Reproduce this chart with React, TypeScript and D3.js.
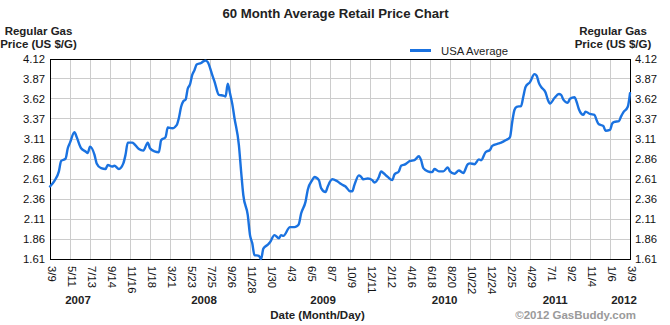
import React from "react";
import * as d3 from "d3";

// weeks since Fri 2007-03-09 and average retail price (US $/gal)
const weeks = [
  0, 2, 4, 5, 7, 8, 9, 11, 12, 14, 16, 17, 18, 20, 21, 23, 25, 26, 28, 29,
  31, 33, 34, 35, 37, 38, 40, 42, 44, 45, 47, 49, 50, 52, 53, 55, 57, 58, 59, 60,
  61, 62, 63, 64, 65, 66, 68, 69, 70, 71, 73, 74, 76, 78, 79, 80, 81, 82, 83, 85,
  86, 87, 89, 90, 91, 92, 94, 95, 96, 98, 99, 101, 103, 104, 105, 108, 110, 111, 112, 113,
  115, 116, 118, 119, 121, 122, 124, 125, 127, 129, 131, 133, 135, 136, 137, 139, 140, 141, 143, 145,
  146, 148, 149, 150, 152, 154, 155, 157, 158, 160, 162, 164, 166, 167, 168, 170, 172, 173, 175, 177,
  179, 180, 182, 184, 186, 188, 189, 191, 193, 194, 196, 198, 199, 202, 203, 205, 207, 208, 209, 210,
  212, 213, 214, 216, 218, 219, 220, 221, 223, 224, 225, 227, 229, 230, 231, 233, 234, 236, 237, 238,
  240, 241, 243, 245, 246, 247, 249, 250, 252, 253, 254, 256, 257, 258, 260, 261,
];
const prices = [
  2.52, 2.59, 2.71, 2.84, 2.87, 3.0, 3.07, 3.2, 3.14, 3.0, 2.96, 2.94, 3.02, 2.92, 2.81, 2.75, 2.74, 2.79, 2.77, 2.78,
  2.74, 2.81, 2.92, 3.07, 3.07, 3.05, 2.99, 2.97, 3.07, 3.0, 2.96, 2.95, 3.1, 3.14, 3.26, 3.25, 3.29, 3.38, 3.52, 3.59,
  3.61, 3.75, 3.8, 3.92, 3.98, 4.05, 4.07, 4.09, 4.1, 4.08, 3.92, 3.84, 3.67, 3.66, 3.65, 3.81, 3.69, 3.56, 3.38, 3.04,
  2.71, 2.41, 2.16, 1.91, 1.81, 1.66, 1.65, 1.61, 1.74, 1.79, 1.82, 1.91, 1.87, 1.91, 1.9, 2.01, 2.01, 2.02, 2.05, 2.18,
  2.33, 2.48, 2.6, 2.64, 2.6, 2.5, 2.45, 2.52, 2.61, 2.59, 2.55, 2.52, 2.46, 2.46, 2.54, 2.66, 2.64, 2.61, 2.62, 2.6,
  2.57, 2.64, 2.71, 2.69, 2.64, 2.6, 2.67, 2.71, 2.78, 2.8, 2.84, 2.85, 2.9, 2.85, 2.75, 2.71, 2.7, 2.74, 2.71, 2.71,
  2.76, 2.71, 2.68, 2.72, 2.69, 2.8, 2.81, 2.8, 2.86, 2.85, 2.95, 2.98, 3.03, 3.06, 3.07, 3.1, 3.14, 3.33, 3.48, 3.52,
  3.53, 3.65, 3.77, 3.83, 3.93, 3.91, 3.82, 3.77, 3.7, 3.61, 3.56, 3.63, 3.68, 3.67, 3.61, 3.57, 3.62, 3.64, 3.58, 3.49,
  3.42, 3.46, 3.43, 3.42, 3.35, 3.3, 3.28, 3.22, 3.23, 3.31, 3.33, 3.34, 3.4, 3.45, 3.52, 3.69,
];

const tickLabels = [
  "3/9", "5/11", "7/13", "9/14", "11/16", "1/18", "3/21", "5/23", "7/25", "9/26",
  "11/28", "1/30", "4/3", "6/5", "8/7", "10/9", "12/11", "2/12", "4/16", "6/18",
  "8/20", "10/22", "12/24", "2/25", "4/29", "7/1", "9/2", "11/4", "1/6", "3/9",
];
const tickWeeks = tickLabels.map((_, i) => i * 9);
const yTicks = [4.12, 3.87, 3.62, 3.37, 3.11, 2.86, 2.61, 2.36, 2.11, 1.86, 1.61];
const years = ["2007", "2008", "2009", "2010", "2011", "2012"];
const yearWeeks = [12.6, 69.3, 122.9, 177.6, 227.3, 258.3];

const W = 670;
const H = 325;
const M = { left: 50, right: 40, top: 59, bottom: 66 };
const FONT = "'Liberation Sans', Arial, sans-serif";
const BLUE = "#1a72e0";

export default function App() {
  const x = d3.scaleLinear().domain([0, 261]).range([M.left, W - M.right]);
  const y = d3.scaleLinear().domain([1.61, 4.12]).range([H - M.bottom, M.top]);
  const data = weeks.map((w, i) => [w, prices[i]] as [number, number]);
  const line = d3
    .line<[number, number]>()
    .x((d) => x(d[0]))
    .y((d) => y(d[1]))
    .curve(d3.curveMonotoneX);
  const x0 = M.left;
  const x1 = W - M.right;
  const y0 = M.top;
  const y1 = H - M.bottom;

  return (
    <div style={{ position: "absolute", left: 0, top: 0 }}>
      <svg width={W} height={H} style={{ display: "block", background: "#fff" }} fontFamily={FONT}>
        <text x={335.5} y={18} textAnchor="middle" fontSize={13.2} fontWeight="bold" fill="#222">
          60 Month Average Retail Price Chart
        </text>
        <g fontSize={11.5} fontWeight="bold" fill="#222" textAnchor="middle">
          <text x={38.5} y={35}>Regular Gas</text>
          <text x={38.5} y={48}>Price (US $/G)</text>
          <text x={613} y={35}>Regular Gas</text>
          <text x={613} y={48}>Price (US $/G)</text>
        </g>
        {/* legend */}
        <line x1={410} x2={431} y1={50.5} y2={50.5} stroke={BLUE} strokeWidth={3} />
        <text x={441} y={54.5} fontSize={11.3} fill="#222">USA Average</text>

        {/* grid */}
        <g stroke="#cccccc" strokeWidth={1} shapeRendering="crispEdges">
          {yTicks.map((t) => (
            <line key={"h" + t} x1={x0} x2={x1} y1={y(t)} y2={y(t)} />
          ))}
          {tickWeeks.map((w) => (
            <line key={"v" + w} x1={x(w)} x2={x(w)} y1={y0} y2={y1} />
          ))}
        </g>
        <rect x={x0} y={y0} width={x1 - x0} height={y1 - y0} fill="none" stroke="#000" strokeWidth={1} shapeRendering="crispEdges" />

        {/* y tick labels */}
        <g fontSize={11.3} fill="#111">
          {yTicks.map((t) => (
            <React.Fragment key={"yl" + t}>
              <text x={x0 - 5} y={y(t)} dy="0.35em" textAnchor="end">{t.toFixed(2)}</text>
              <text x={x1 + 5} y={y(t)} dy="0.35em" textAnchor="start">{t.toFixed(2)}</text>
            </React.Fragment>
          ))}
        </g>

        {/* x tick labels */}
        <g fontSize={11.3} fill="#111">
          {tickLabels.map((l, i) => (
            <text
              key={"xl" + i}
              transform={`translate(${x(tickWeeks[i]) + 1.5},${y1 + 7}) rotate(90)`}
              dy="0.35em"
              textAnchor="start"
            >
              {l}
            </text>
          ))}
        </g>

        {/* years */}
        <g fontSize={11.5} fontWeight="bold" fill="#222" textAnchor="middle">
          {years.map((yr, i) => (
            <text key={yr} x={x(yearWeeks[i])} y={303.5}>{yr}</text>
          ))}
        </g>
        <text x={317.5} y={318.5} textAnchor="middle" fontSize={11.5} fontWeight="bold" fill="#222">
          Date (Month/Day)
        </text>
        <text x={636} y={318.5} textAnchor="end" fontSize={11.5} fontWeight="bold" fill="#9a9a9a">
          ©2012 GasBuddy.com
        </text>

        {/* series */}
        <path d={line(data) || ""} fill="none" stroke={BLUE} strokeWidth={2.4} strokeLinejoin="round" strokeLinecap="round" />
      </svg>
    </div>
  );
}
